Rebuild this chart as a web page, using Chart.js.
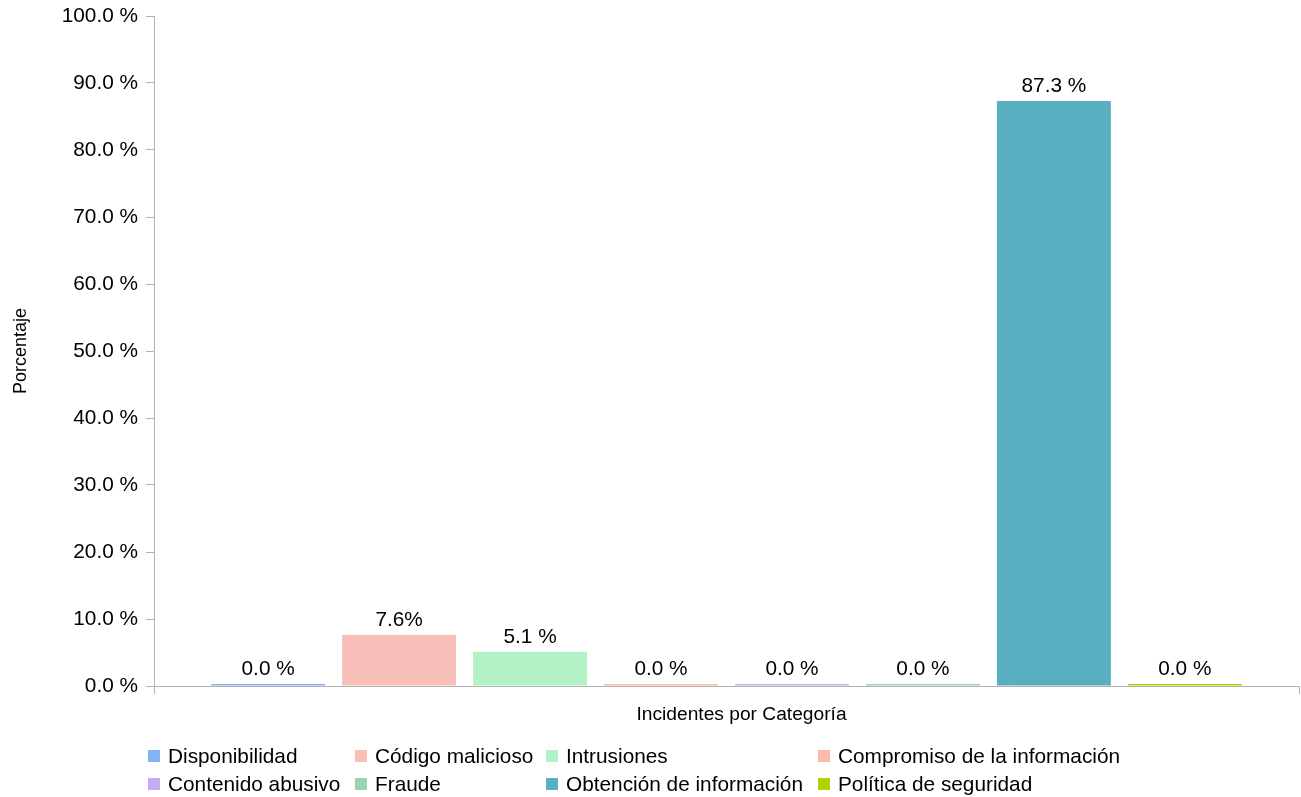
<!DOCTYPE html>
<html>
<head>
<meta charset="utf-8">
<title>Incidentes por Categoría</title>
<script src="https://cdn.jsdelivr.net/npm/chart.js@4.4.1/dist/chart.umd.min.js"></script>
<style>
  html, body { margin: 0; padding: 0; background: #fff; }
  #wrap { position: relative; width: 1301px; height: 797px; }
  #chartLegend {
    position: absolute; left: 148px; top: 742px;
    display: grid; grid-template-columns: 207px 191px 272px auto;
    font: 20.8px "Liberation Sans", Arial, sans-serif; color: #000;
  }
  .legend-child { height: 28px; display: flex; align-items: center; white-space: nowrap; }
  .legend-child span { display: inline-block; width: 12px; height: 12px; margin-right: 8px; }
</style>
</head>
<body>
<div id="wrap">
  <canvas id="myChart" width="1301" height="797"></canvas>
  <div id="chartLegend"></div>
</div>
<script>
// Chart data
const categories = ["Disponibilidad", "Código malicioso", "Intrusiones", "Compromiso de la información",
                    "Contenido abusivo", "Fraude", "Obtención de información", "Política de seguridad"];
const values = [0.0, 7.6, 5.1, 0.0, 0.0, 0.0, 87.3, 0.0];
const valueLabels = ["0.0 %", "7.6%", "5.1 %", "0.0 %", "0.0 %", "0.0 %", "87.3 %", "0.0 %"];
const yTickLabels = ["0.0 %", "10.0 %", "20.0 %", "30.0 %", "40.0 %", "50.0 %",
                     "60.0 %", "70.0 %", "80.0 %", "90.0 %", "100.0 %"];
const colors = ["#83b4f0", "#f8bfb8", "#b2f2c6", "#ffb8ac", "#c8aaf2", "#98d4b0", "#59aebf", "#b0d000"];
const xTitle = "Incidentes por Categoría";

Chart.defaults.font.family = '"Liberation Sans", Arial, sans-serif';
Chart.defaults.font.size = 20.8;
Chart.defaults.color = "#000";

// values printed above every bar, plus the x axis title (sits a bit right of centre)
const barLabels = {
  id: "barLabels",
  afterDatasetsDraw(chart) {
    const ctx = chart.ctx;
    const area = chart.chartArea;
    ctx.save();
    ctx.font = '20.8px "Liberation Sans", Arial, sans-serif';
    ctx.fillStyle = "#000";
    ctx.textAlign = "center";
    ctx.textBaseline = "alphabetic";
    chart.data.datasets.forEach((ds, i) => {
      const bar = chart.getDatasetMeta(i).data[0];
      ctx.fillText(valueLabels[i], bar.x, bar.y - 9);
    });
    ctx.font = '19.2px "Liberation Sans", Arial, sans-serif';
    ctx.textBaseline = "middle";
    ctx.fillText(xTitle, (area.left + area.right) / 2 + 15, area.bottom + 29);
    ctx.restore();
  }
};

const data = {
  labels: [""],
  datasets: categories.map((label, i) => ({
    label: label,
    data: [values[i]],
    backgroundColor: colors[i],
    minBarLength: 2,
    categoryPercentage: 0.915,
    barPercentage: 0.87
  }))
};

const config = {
  type: "bar",
  data: data,
  options: {
    responsive: false,
    animation: false,
    layout: { padding: { top: 16, right: 2, bottom: 71, left: 0 } },
    plugins: {
      legend: { display: false },
      tooltip: { enabled: false }
    },
    scales: {
      x: {
        offset: true,
        grid: { offset: true, drawOnChartArea: false, tickLength: 8, color: "#b3b3b3" },
        border: { color: "#b3b3b3" },
        ticks: { display: true },
        afterFit(scale) { scale.height = 40; }
      },
      y: {
        min: 0,
        max: 100,
        ticks: {
          stepSize: 10,
          padding: 8,
          callback: (v, i) => yTickLabels[i]
        },
        grid: { drawOnChartArea: false, tickLength: 8, color: "#b3b3b3" },
        border: { color: "#b3b3b3" },
        title: { display: true, text: "Porcentaje", font: { size: 18 }, padding: { top: 10, bottom: 0 } },
        afterFit(scale) {
          scale.width = 154;
          scale.paddingTop = 0;
          scale.paddingBottom = 0;
        }
      }
    }
  },
  plugins: [barLabels]
};

const myChart = new Chart(document.getElementById("myChart"), config);

// custom legend, two rows of four
const legendContainer = document.getElementById("chartLegend");
categories.forEach((label, index) => {
  const legendItem = document.createElement("div");
  legendItem.className = "legend-child";
  legendItem.innerHTML = `<span style="background-color: ${colors[index]};"></span>${label}`;
  legendContainer.appendChild(legendItem);
});
</script>
</body>
</html>
